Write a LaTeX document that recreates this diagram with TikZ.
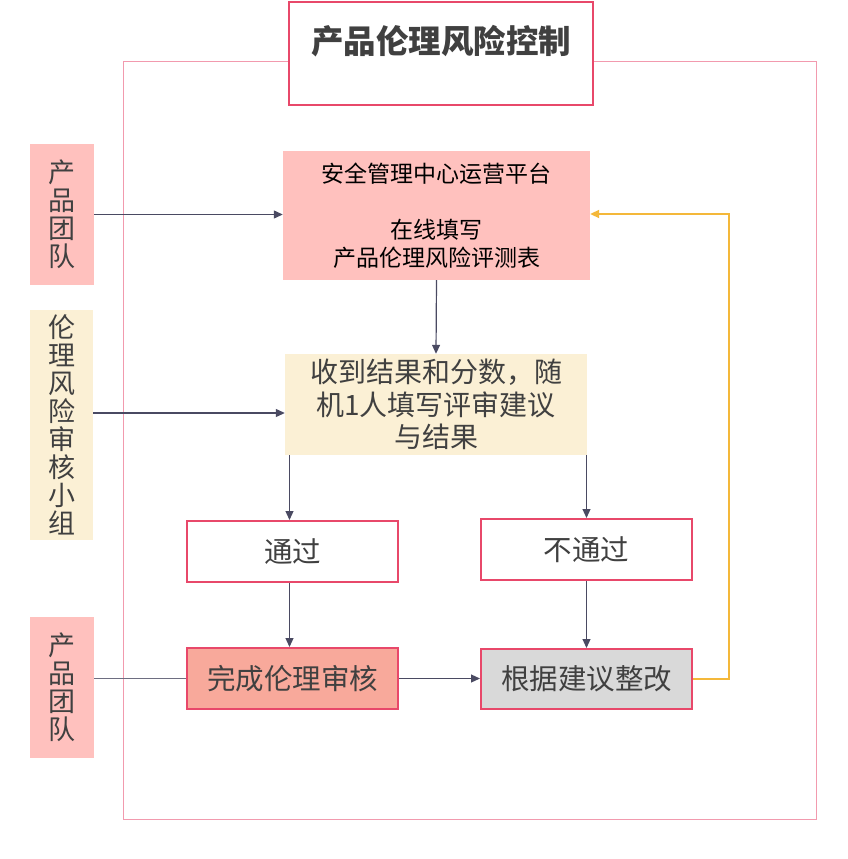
\documentclass[tikz,border=0pt]{standalone}
\usepackage{fontspec}
\setmainfont{Noto Sans CJK SC}
\usetikzlibrary{arrows.meta}
\definecolor{framepink}{HTML}{F29AAE}
\definecolor{boxred}{HTML}{E8486A}
\definecolor{pinkfill}{HTML}{FFC1BE}
\definecolor{creamfill}{HTML}{FBF0D5}
\definecolor{salmon}{HTML}{F8A99B}
\definecolor{greyfill}{HTML}{D9D9D9}
\definecolor{txt}{HTML}{404040}
\definecolor{arr}{HTML}{4A4A62}
\definecolor{yell}{HTML}{F4B83A}
\tikzset{
  side/.style={inner sep=0pt, align=center, text=txt, font=\fontsize{27}{28}\selectfont},
  flowbox/.style={draw=boxred, line width=2pt, inner sep=0pt, text=txt, font=\fontsize{28.5}{32}\selectfont},
  conn/.style={draw=arr, line width=1.2pt, -{Triangle[length=9pt,width=8pt]}},
  plainconn/.style={draw=arr!80, line width=1.2pt},
}
\begin{document}
\begin{tikzpicture}[x=1pt,y=-1pt]
\useasboundingbox (0,0) rectangle (848,859);
\draw[framepink, line width=1pt] (123,62) rectangle (816,819);
\node[draw=boxred, line width=2pt, fill=white, minimum width=304pt, inner sep=0pt,
      text height=52pt, text depth=51pt, text=txt, font=\bfseries\fontsize{32.5}{34}\selectfont]
      (title) at (441,53.5) {产品伦理风险控制};
\node[side, fill=pinkfill, minimum width=64pt, minimum height=141pt] (L1) at (62,214.5) {产\\品\\团\\队};
\node[side, fill=creamfill, minimum width=63pt, minimum height=230pt] (L2) at (61.5,425) {伦\\理\\风\\险\\审\\核\\小\\组};
\node[side, fill=pinkfill, minimum width=64pt, minimum height=141pt] (L3) at (62,687.5) {产\\品\\团\\队};
\node[fill=pinkfill, minimum width=307pt, minimum height=129pt, inner sep=0pt, align=center,
      text=black, font=\fontsize{23}{28}\selectfont] (A) at (436.5,215.5)
      {安全管理中心运营平台\\[28pt]在线填写\\产品伦理风险评测表};
\node[fill=creamfill, minimum width=302pt, minimum height=101pt, inner sep=0pt, align=center,
      text=txt, font=\fontsize{28}{32.5}\selectfont] (B) at (436,404.5)
      {收到结果和分数，随\\机1人填写评审建议\\与结果};
\node[flowbox, fill=white, minimum width=211pt, minimum height=61pt] (P) at (292.5,551.5) {通过};
\node[flowbox, fill=white, minimum width=211pt, minimum height=61pt] (NP) at (586.5,549.5) {不通过};
\node[flowbox, fill=salmon, minimum width=211pt, minimum height=61pt] (C) at (292.5,678.5) {完成伦理审核};
\node[flowbox, fill=greyfill, minimum width=211pt, minimum height=60pt] (R) at (586.5,679) {根据建议整改};
\coordinate (ycorner) at (729,214);
\draw[conn] (L1.east) -- (A.west |- L1.east);
\draw[conn] (A.south) -- (B.north);
\draw[conn] ([yshift=-8.5pt]B.west -| L2.east) -- ([yshift=-8.5pt]B.west);
\draw[conn] ([xshift=-3pt]B.south -| P.north) -- ([xshift=-3pt]P.north);
\draw[conn] (B.south -| NP.north) -- (NP.north);
\draw[conn] ([xshift=-3pt]P.south) -- ([xshift=-3pt]C.north);
\draw[conn] (NP.south) -- (R.north);
\draw[plainconn] (L3.east |- C.west) -- (C.west);
\draw[conn] (C.east) -- (R.west |- C.east);
\draw[yell, line width=2pt, -{Triangle[length=9pt,width=8pt]}] (R.east) -| (ycorner) -- (A.east |- ycorner);
\end{tikzpicture}
\end{document}
